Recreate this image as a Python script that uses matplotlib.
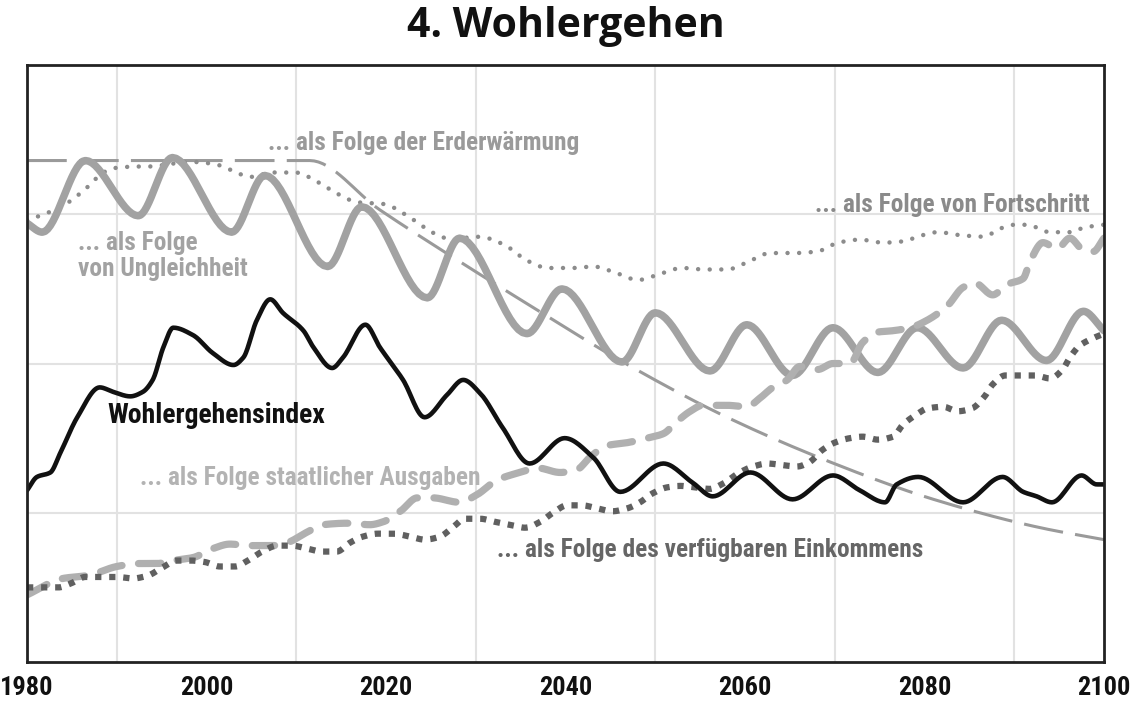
import numpy as np
import matplotlib.pyplot as plt

# values (years, index units 0..4)
years_ungleich = [1980.0, 1981.7, 1986.5, 1992.4, 1996.2, 2002.8, 2006.5, 2013.5, 2017.3, 2024.6,
                  2028.2, 2035.7, 2039.6, 2046.3, 2050.0, 2056.1, 2060.2, 2065.3, 2069.8, 2074.8,
                  2079.2, 2084.3, 2088.6, 2093.6, 2097.7, 2100.0]
vals_ungleich = [2.94, 2.88, 3.36, 2.99, 3.38, 2.88, 3.26, 2.65, 3.05, 2.44,
                 2.84, 2.20, 2.50, 2.01, 2.34, 1.95, 2.26, 1.92, 2.24, 1.94,
                 2.24, 1.97, 2.29, 2.02, 2.35, 2.22]

years_erde = [1980.0, 2011.5, 2019.3, 2027.5, 2036.0, 2046.4, 2058.0, 2069.5, 2081.0, 2092.9, 2100.0]
vals_erde = [3.36, 3.36, 3.03, 2.71, 2.39, 2.01, 1.64, 1.34, 1.09, 0.90, 0.82]

years_fort = [1980.0, 1982.3, 1984.6, 1986.7, 1988.5, 1989.8, 1992.4, 1993.7, 1996.3, 1998.7,
              2001.3, 2003.7, 2004.8, 2007.4, 2009.9, 2012.3, 2014.5, 2016.9, 2019.6, 2022.9,
              2025.1, 2027.5, 2029.9, 2031.3, 2033.6, 2035.7, 2038.1, 2040.7, 2043.1, 2045.5,
              2048.1, 2050.5, 2053.0, 2055.5, 2058.0, 2060.3, 2062.8, 2065.3, 2068.0, 2070.4,
              2072.8, 2075.4, 2077.8, 2079.2, 2081.5, 2084.0, 2086.5, 2088.7, 2090.1, 2091.4,
              2094.0, 2096.4, 2097.7, 2100.0]
vals_fort = [2.96, 3.01, 3.08, 3.18, 3.28, 3.31, 3.32, 3.32, 3.34, 3.35,
             3.33, 3.27, 3.25, 3.28, 3.28, 3.22, 3.14, 3.08, 3.07, 2.97,
             2.88, 2.83, 2.85, 2.84, 2.78, 2.69, 2.64, 2.64, 2.65, 2.61,
             2.56, 2.60, 2.64, 2.63, 2.63, 2.68, 2.74, 2.74, 2.75, 2.81,
             2.83, 2.81, 2.82, 2.85, 2.88, 2.86, 2.85, 2.91, 2.93, 2.93,
             2.88, 2.88, 2.91, 2.93]

years_staat = [1980.0, 1984.0, 1986.8, 1990.0, 1992.3, 1994.5, 1996.3, 1998.5, 2000.7, 2002.6,
               2004.8, 2007.4, 2009.0, 2011.2, 2013.0, 2015.7, 2018.2, 2019.7, 2021.6, 2023.5,
               2025.2, 2028.2, 2030.1, 2032.4, 2034.9, 2036.9, 2039.4, 2041.3, 2042.7, 2044.6,
               2046.9, 2049.1, 2050.9, 2052.4, 2053.9, 2055.3, 2058.0, 2060.2, 2061.7, 2063.1,
               2064.7, 2066.1, 2068.1, 2069.8, 2071.7, 2073.1, 2074.7, 2076.5, 2078.4, 2080.3,
               2082.6, 2084.3, 2085.6, 2087.6, 2089.2, 2091.0, 2091.8, 2093.2, 2094.8, 2096.2,
               2097.7, 2098.8, 2100.0]
vals_staat = [0.45, 0.56, 0.58, 0.64, 0.66, 0.66, 0.68, 0.70, 0.76, 0.79,
              0.78, 0.78, 0.80, 0.87, 0.92, 0.93, 0.92, 0.94, 1.01, 1.10,
              1.10, 1.07, 1.12, 1.22, 1.27, 1.30, 1.27, 1.29, 1.37, 1.45,
              1.47, 1.50, 1.53, 1.61, 1.68, 1.72, 1.72, 1.71, 1.77, 1.84,
              1.89, 1.98, 1.96, 2.00, 2.00, 2.14, 2.21, 2.22, 2.24, 2.29,
              2.39, 2.51, 2.54, 2.46, 2.53, 2.57, 2.69, 2.81, 2.77, 2.84,
              2.76, 2.75, 2.84]

years_eink = [1980.0, 1983.5, 1985.0, 1986.5, 1990.0, 1991.8, 1993.5, 1995.0, 1996.7, 1998.2,
              1999.8, 2001.5, 2003.2, 2004.6, 2006.2, 2007.9, 2009.5, 2011.2, 2012.9, 2014.5,
              2016.0, 2017.4, 2019.1, 2020.8, 2022.7, 2024.3, 2026.0, 2027.4, 2028.8, 2030.5,
              2032.1, 2033.8, 2035.5, 2037.2, 2038.6, 2040.2, 2041.8, 2043.5, 2045.2, 2046.9,
              2048.3, 2049.7, 2051.3, 2052.8, 2054.4, 2056.1, 2057.4, 2059.4, 2060.9, 2062.5,
              2064.1, 2065.8, 2067.2, 2068.6, 2070.0, 2071.7, 2073.1, 2074.8, 2076.5, 2077.6,
              2078.9, 2080.4, 2082.1, 2083.7, 2085.3, 2086.7, 2087.6, 2089.0, 2090.6, 2092.3,
              2094.0, 2095.4, 2096.2, 2097.3, 2098.8, 2100.0]
vals_eink = [0.50, 0.50, 0.53, 0.57, 0.57, 0.56, 0.58, 0.63, 0.68, 0.68,
             0.67, 0.64, 0.64, 0.68, 0.74, 0.78, 0.78, 0.76, 0.74, 0.74,
             0.80, 0.84, 0.86, 0.86, 0.84, 0.82, 0.84, 0.90, 0.96, 0.96,
             0.94, 0.92, 0.90, 0.94, 1.00, 1.05, 1.05, 1.03, 1.01, 1.03,
             1.07, 1.13, 1.17, 1.18, 1.17, 1.16, 1.19, 1.27, 1.31, 1.33,
             1.32, 1.31, 1.34, 1.42, 1.47, 1.50, 1.51, 1.49, 1.51, 1.59,
             1.65, 1.70, 1.71, 1.68, 1.70, 1.78, 1.86, 1.92, 1.92, 1.92,
             1.90, 1.96, 2.04, 2.12, 2.17, 2.20]

years_index = [1980.0, 1981.1, 1982.6, 1983.7, 1985.6, 1988.1, 1989.6, 1991.5, 1992.9, 1994.0,
               1995.2, 1996.3, 1998.5, 2000.7, 2003.0, 2004.1, 2005.6, 2007.1, 2008.5, 2010.8,
               2011.9, 2014.0, 2015.2, 2017.7, 2019.3, 2021.9, 2024.3, 2026.8, 2028.6, 2030.5,
               2033.0, 2036.0, 2039.9, 2043.1, 2046.1, 2050.9, 2054.2, 2056.4, 2060.6, 2065.3,
               2069.8, 2072.8, 2075.6, 2076.9, 2079.3, 2084.3, 2088.7, 2091.0, 2092.5, 2094.2,
               2097.5, 2099.2, 2100.0]
vals_index = [1.15, 1.24, 1.27, 1.40, 1.64, 1.84, 1.81, 1.78, 1.81, 1.89,
              2.11, 2.24, 2.19, 2.07, 1.99, 2.04, 2.29, 2.43, 2.34, 2.22,
              2.11, 1.97, 2.04, 2.26, 2.11, 1.89, 1.64, 1.79, 1.89, 1.80,
              1.57, 1.33, 1.50, 1.37, 1.14, 1.33, 1.20, 1.11, 1.27, 1.09,
              1.25, 1.15, 1.07, 1.19, 1.24, 1.07, 1.24, 1.14, 1.11, 1.07,
              1.25, 1.19, 1.19]

x_ticks = [1980, 2000, 2020, 2040, 2060, 2080, 2100]


def smooth(x, y, n=16):
    # monotone cubic hermite through the read points (drawing only)
    x = np.asarray(x, float)
    y = np.asarray(y, float)
    h = np.diff(x)
    d = np.diff(y) / h
    m = np.zeros_like(y)
    m[0], m[-1] = d[0], d[-1]
    for i in range(1, len(y) - 1):
        if d[i - 1] * d[i] > 0:
            w1 = 2 * h[i] + h[i - 1]
            w2 = h[i] + 2 * h[i - 1]
            m[i] = (w1 + w2) / (w1 / d[i - 1] + w2 / d[i])
    xs, ys = [], []
    t = np.linspace(0, 1, n, endpoint=False)
    h00 = 2 * t**3 - 3 * t**2 + 1
    h10 = t**3 - 2 * t**2 + t
    h01 = -2 * t**3 + 3 * t**2
    h11 = t**3 - t**2
    for i in range(len(h)):
        xs.append(x[i] + t * h[i])
        ys.append(h00 * y[i] + h10 * h[i] * m[i] + h01 * y[i + 1] + h11 * h[i] * m[i + 1])
    xs.append([x[-1]])
    ys.append([y[-1]])
    return np.concatenate(xs), np.concatenate(ys)


cond = ['Liberation Sans Narrow', 'Roboto Condensed', 'DejaVu Sans']

fig = plt.figure(figsize=(11.31, 7.06), dpi=100)
ax = fig.add_axes([0.0239, 0.0623, 0.9522, 0.8456])
ax.set_xlim(1980, 2100)
ax.set_ylim(0, 4)

# grid
ax.set_xticks(np.arange(1990, 2100, 10), minor=True)
ax.set_yticks([1, 2, 3], minor=True)
ax.grid(which='minor', color='#e2e2e2', lw=1.5, zorder=0)
ax.set_yticks([])
ax.set_xticks(x_ticks)
ax.set_xticklabels([str(t) for t in x_ticks], family=cond, weight='bold',
                   stretch='condensed', fontsize=19, color='#111111')
ax.tick_params(axis='x', which='both', length=0, pad=10)
ax.tick_params(axis='y', which='both', length=0)
for s in ax.spines.values():
    s.set_color('#222222')
    s.set_linewidth(2)
    s.set_zorder(10)

x, y = smooth(years_erde, vals_erde)
ax.plot(x, y, color='#9a9a9a', lw=2.2, dashes=(13, 4), solid_capstyle='butt', zorder=2)

x, y = smooth(years_fort, vals_fort)
ax.plot(x, y, color='#8c8c8c', lw=3.2, dashes=(0.01, 2.6), dash_capstyle='round', zorder=2)

x, y = smooth(years_ungleich, vals_ungleich)
ax.plot(x, y, color='#a2a2a2', lw=5.4, solid_capstyle='round', zorder=3)

x, y = smooth(years_staat, vals_staat)
ax.plot(x, y, color='#b0b0b0', lw=5.2, dashes=(3.1, 2.3), dash_capstyle='round', zorder=3)

x, y = smooth(years_eink, vals_eink)
ax.plot(x, y, color='#606060', lw=4.5, dashes=(1, 1.25), dash_capstyle='butt', zorder=4)

x, y = smooth(years_index, vals_index)
ax.plot(x, y, color='#111111', lw=3.3, solid_capstyle='round', zorder=5)

lab = dict(family=cond, weight='bold', stretch='condensed', fontsize=18.3, va='center', ha='left')
ax.text(2006.85, 3.48, '... als Folge der Erderwärmung', color='#9a9a9a', **lab)
ax.text(2067.8, 3.06, '... als Folge von Fortschritt', color='#8a8a8a', **lab)
ax.text(1985.7, 2.72, '... als Folge\nvon Ungleichheit', color='#a2a2a2', linespacing=1.1, **lab)
ax.text(1989.0, 1.65, 'Wohlergehensindex', color='#111111',
        **{**lab, 'fontsize': 20})
ax.text(1992.6, 1.23, '... als Folge staatlicher Ausgaben', color='#b3b3b3', **lab)
ax.text(2032.4, 0.75, '... als Folge des verfügbaren Einkommens', color='#666666', **lab)

fig.text(0.5, 1 - 37 / 706, '4. Wohlergehen', ha='center', va='baseline', fontsize=29.5,
         weight='bold', family=['Open Sans', 'DejaVu Sans'], color='#111111')

fig.savefig('out.png', dpi=100)
